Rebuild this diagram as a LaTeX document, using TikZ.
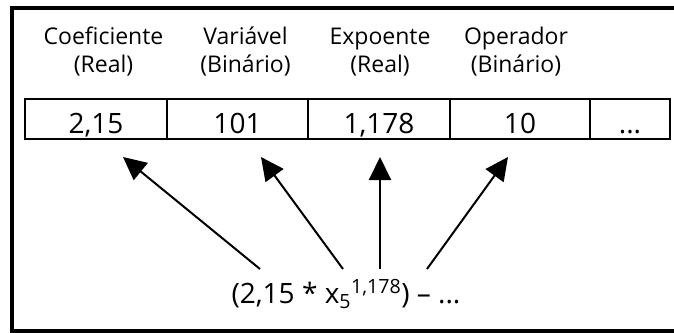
\documentclass[tikz,border=0pt]{standalone}
\usepackage{fontspec}
\setmainfont{Open Sans}
\usetikzlibrary{arrows.meta, positioning}
\tikzset{
  cellbox/.style={draw=black, line width=2pt, inner sep=0pt,
              minimum height=40pt, minimum width=#1,
              text height=28pt, text depth=0pt, font=\fontsize{28}{30}\selectfont},
  headlabel/.style={align=center, inner sep=0pt, anchor=base,
              font=\fontsize{23}{28}\selectfont},
  fieldarr/.style={-{Triangle[length=23pt, width=22pt]}, line width=2pt},
}

\begin{document}
\begin{tikzpicture}[x=1pt, y=-1pt]
  \clip (0,0) rectangle (674,332);
  \draw[line width=4pt] (12,8) rectangle (700,331);

  % the row of fields
  \node[cellbox=142pt] (coef) at (96,119)    {2,15};
  \node[cellbox=141pt] (var)  at (237.5,119) {101};
  \node[cellbox=142pt] (expo) at (379,119)   {1,178};
  \node[cellbox=140pt] (oper) at (520,119)   {10};
  \node[cellbox=80pt]  (more) at (630,119)   {...};

  % field types (base = second line)
  \node[headlabel] (hcoef) at (103.5,72) {Coeficiente\\(Real)};
  \node[headlabel] (hvar)  at (245.5,72) {Variável\\(Binário)};
  \node[headlabel] (hexpo) at (380,72)   {Expoente\\(Real)};
  \node[headlabel] (hoper) at (516,72)   {Operador\\(Binário)};

  % expression
  \node[anchor=base, inner sep=0pt, font=\fontsize{28}{30}\selectfont] (expr) at (346,303)
    {(2,15 * x\textsubscript{5}\textsuperscript{1,178}) – ...};

  \coordinate (a1) at (260,269);
  \coordinate (a2) at (343,269);
  \coordinate (a3) at (380,269);
  \coordinate (a4) at (427,269);
  \coordinate (b1) at (123,157);
  \coordinate (b2) at (261,157);
  \coordinate (b3) at (380,157);
  \coordinate (b4) at (508,157);
  \draw[fieldarr] (a1) -- (b1);
  \draw[fieldarr] (a2) -- (b2);
  \draw[fieldarr] (a3) -- (b3);
  \draw[fieldarr] (a4) -- (b4);
\end{tikzpicture}
\end{document}
